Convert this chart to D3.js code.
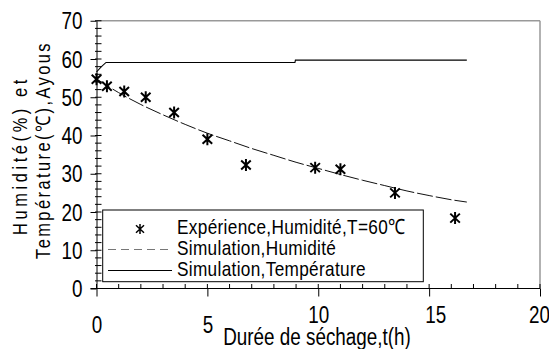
<!DOCTYPE html>
<html>
<head>
<meta charset="utf-8">
<script src="https://cdn.jsdelivr.net/npm/d3@7"></script>
<style>
  body { margin: 0; background: #fff; }
  svg text { font-family: "Liberation Sans", Arial, sans-serif; fill: #000; }
</style>
</head>
<body>
<div id="chart"></div>
<script>
// experimental points (Expérience, Humidité, T=60°C)
var expTime = [0, 0.47, 1.25, 2.22, 3.5, 5.0, 6.74, 9.86, 11.0, 13.46, 16.17];
var expHum = [54.7, 52.9, 51.5, 50.0, 46.0, 39.0, 32.3, 31.6, 31.2, 25.0, 18.4];

// simulated humidity
var simTime = [0, 1, 2, 3, 4, 5, 6, 7, 8, 9, 10, 11, 12, 13, 14, 15, 16, 16.7];
var simHum = [54.8, 51.2, 48.1, 45.4, 42.9, 40.6, 38.6, 36.6, 34.8, 33.0, 31.4, 29.8, 28.3, 26.9, 25.5, 24.3, 23.2, 22.6];

// simulated temperature
var tempTime = [0, 0.2, 0.43, 8.95, 8.97, 16.7];
var tempVal = [56.6, 57.9, 59.1, 59.1, 59.7, 59.7];

var xTicks = [0, 5, 10, 15, 20];
var yTicks = [0, 10, 20, 30, 40, 50, 60, 70];
var legendLabels = ["Expérience,Humidité,T=60\u2103", "Simulation,Humidité", "Simulation,Température"];
var xTitle = "Durée de séchage,t(h)";
var yTitle = ["Humidité(%) et", "Température(\u2103),Ayous"];

var width = 549,
  height = 349,
  narrow = 0.82; // horizontal squeeze to mimic a narrow face

var svg = d3.select("#chart").append("svg")
  .attr("width", width)
  .attr("height", height);

var x = d3.scaleLinear().domain([0, 20]).range([96.5, 540]);
var y = d3.scaleLinear().domain([0, 70]).range([288.5, 20.75]);

// plot frame (top and right, grey)
svg.append("line")
  .attr("x1", x(0)).attr("x2", x(20))
  .attr("y1", y(70)).attr("y2", y(70))
  .attr("stroke", "#999").attr("stroke-width", 1.5);
svg.append("line")
  .attr("x1", x(20)).attr("x2", x(20))
  .attr("y1", y(70)).attr("y2", y(0))
  .attr("stroke", "#999").attr("stroke-width", 1.5);

// minor ticks inside
svg.selectAll(".yminor")
  .data(d3.range(0, 71, 2))
  .enter().append("line")
  .attr("class", "yminor")
  .attr("x1", x(0) - 1.5).attr("x2", x(0) + 5)
  .attr("y1", function(d) { return y(d); })
  .attr("y2", function(d) { return y(d); })
  .attr("stroke", "#000");

svg.selectAll(".xminor")
  .data(d3.range(0, 21, 1))
  .enter().append("line")
  .attr("class", "xminor")
  .attr("x1", function(d) { return x(d); })
  .attr("x2", function(d) { return x(d); })
  .attr("y1", y(0)).attr("y2", y(0) - 4.5)
  .attr("stroke", "#000");

// Y axis
var yAxis = d3.axisLeft(y)
  .tickValues(yTicks)
  .tickSize(6)
  .tickSizeOuter(0);

var gy = svg.append("g")
  .attr("transform", "translate(" + x(0) + ",0)")
  .call(yAxis);
gy.selectAll("line, path").attr("stroke", "#000");
gy.selectAll("text")
  .style("font-size", "23px")
  .attr("fill", "#000")
  .attr("x", 0)
  .attr("dy", "0.35em")
  .attr("transform", "translate(-14,0) scale(" + narrow + ",1)");

// X axis
var xAxis = d3.axisBottom(x)
  .tickValues(xTicks)
  .tickSize(8)
  .tickSizeOuter(0);

var xLabelShift = { 0: [0, 44.5], 5: [0, 44.5], 10: [0, 34.5], 15: [6, 34.5], 20: [-1, 34.5] };

var gx = svg.append("g")
  .attr("transform", "translate(0," + y(0) + ")")
  .call(xAxis);
gx.selectAll("line, path").attr("stroke", "#000");
gx.selectAll("text")
  .style("font-size", "23px")
  .attr("fill", "#000")
  .attr("dy", null)
  .attr("y", 0)
  .attr("transform", function(d) {
    return "translate(" + xLabelShift[d][0] + "," + xLabelShift[d][1] + ") scale(" + narrow + ",1)";
  });
gx.select(".domain").attr("d", "M" + (x(0) - 6) + ",0H" + x(20));

// simulated temperature
var tempLine = d3.line()
  .x(function(d) { return x(d[0]); })
  .y(function(d) { return y(d[1]); });

svg.append("path")
  .datum(d3.zip(tempTime, tempVal))
  .attr("d", tempLine)
  .attr("fill", "none")
  .attr("stroke", "#000")
  .attr("stroke-width", 1.1);

// simulated humidity
var humLine = d3.line()
  .curve(d3.curveMonotoneX)
  .x(function(d) { return x(d[0]); })
  .y(function(d) { return y(d[1]); });

svg.append("path")
  .datum(d3.zip(simTime, simHum))
  .attr("d", humLine)
  .attr("fill", "none")
  .attr("stroke", "#111")
  .attr("stroke-width", 1)
  .attr("stroke-dasharray", "16,3");

// asterisk marker
var star = function(s) {
  var w = s * 0.8, h = s * 0.75;
  return "M0," + (-s) + "L0," + s +
    "M" + (-w) + "," + (-h) + "L" + w + "," + h +
    "M" + w + "," + (-h) + "L" + (-w) + "," + h;
};

svg.selectAll(".pt")
  .data(d3.zip(expTime, expHum))
  .enter().append("path")
  .attr("class", "pt")
  .attr("transform", function(d) { return "translate(" + x(d[0]) + "," + y(d[1]) + ")"; })
  .attr("d", star(6))
  .attr("fill", "none")
  .attr("stroke", "#000")
  .attr("stroke-width", 2);

// legend
var legend = svg.append("g").attr("class", "legend");

legend.append("rect")
  .attr("x", 102.7).attr("y", 210)
  .attr("width", 320.6).attr("height", 71.7)
  .attr("fill", "#fff")
  .attr("stroke", "#000");

legend.append("path")
  .attr("transform", "translate(140,229)")
  .attr("d", star(5))
  .attr("fill", "none")
  .attr("stroke", "#000")
  .attr("stroke-width", 1.5);

legend.append("line")
  .attr("x1", 108).attr("x2", 172)
  .attr("y1", 249.5).attr("y2", 249.5)
  .attr("stroke", "#777")
  .attr("stroke-dasharray", "8,5");

legend.append("line")
  .attr("x1", 108).attr("x2", 172)
  .attr("y1", 270.5).attr("y2", 270.5)
  .attr("stroke", "#000");

legend.selectAll("text")
  .data(legendLabels)
  .enter().append("text")
  .attr("transform", function(d, i) {
    return "translate(177," + (233.5 + i * 21.3) + ") scale(" + narrow + ",1)";
  })
  .style("font-size", "21px")
  .style("letter-spacing", "0.4px")
  .text(function(d) { return d; });

// axis titles
svg.append("text")
  .attr("transform", "translate(317,345) scale(" + narrow + ",1)")
  .attr("text-anchor", "middle")
  .style("font-size", "23px")
  .text(xTitle);

svg.append("text")
  .attr("transform", "translate(27,155.5) rotate(-90) scale(" + narrow + ",1)")
  .attr("text-anchor", "middle")
  .style("font-size", "20px")
  .style("letter-spacing", "4.4px")
  .text(yTitle[0]);

svg.append("text")
  .attr("transform", "translate(50,150) rotate(-90) scale(" + narrow + ",1)")
  .attr("text-anchor", "middle")
  .style("font-size", "20px")
  .style("letter-spacing", "3px")
  .text(yTitle[1]);
</script>
</body>
</html>
